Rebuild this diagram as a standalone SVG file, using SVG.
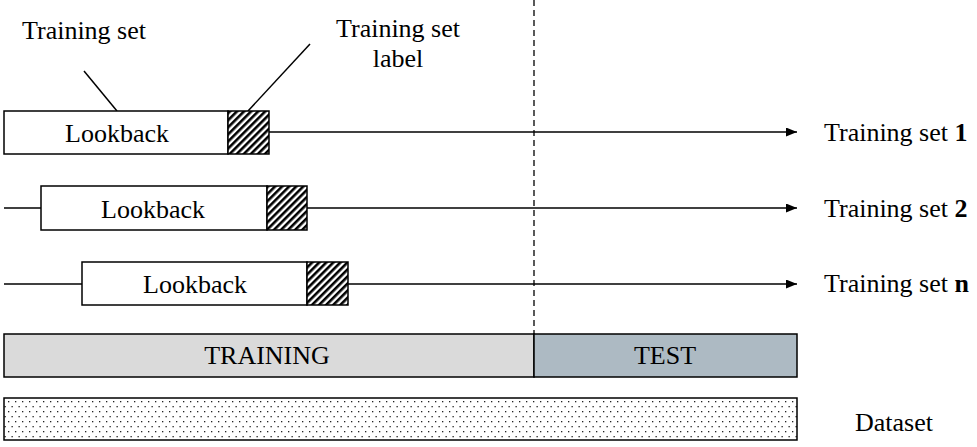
<svg xmlns="http://www.w3.org/2000/svg" width="977" height="447" viewBox="0 0 977 447">
<defs>
<pattern id="hatch" width="5" height="5" patternUnits="userSpaceOnUse" patternTransform="rotate(45)">
<rect width="5" height="5" fill="#fff"/>
<rect x="0" y="0" width="2.6" height="5" fill="#000"/>
</pattern>
<pattern id="dots" width="7" height="10" patternUnits="userSpaceOnUse">
<rect width="7" height="10" fill="#fff"/>
<rect x="1" y="1" width="1.3" height="1.3" fill="#222"/>
<rect x="4.5" y="6" width="1.3" height="1.3" fill="#222"/>
</pattern>
<marker id="arr" markerWidth="11" markerHeight="9" refX="11" refY="4.5" orient="auto" markerUnits="userSpaceOnUse">
<path d="M0,0 L11,4.5 L0,9 Z" fill="#000"/>
</marker>
</defs>
<style>
text{font-family:"Liberation Serif","Times New Roman",serif;font-size:26px;fill:#000}
.box{stroke:#000;stroke-width:1.5}
.ln{stroke:#000;stroke-width:1.5;fill:none}
</style>
<rect width="977" height="447" fill="#fff"/>
<g id="connectors">
<line class="ln" x1="269" y1="132" x2="797" y2="132" marker-end="url(#arr)"/>
<line class="ln" x1="4" y1="208" x2="41" y2="208"/>
<line class="ln" x1="307" y1="208" x2="797" y2="208" marker-end="url(#arr)"/>
<line class="ln" x1="4" y1="284" x2="82" y2="284"/>
<line class="ln" x1="348" y1="284" x2="797" y2="284" marker-end="url(#arr)"/>
<line class="ln" x1="84" y1="71" x2="117" y2="111"/>
<line class="ln" x1="310" y1="44" x2="248" y2="111"/>
<line x1="534" y1="0" x2="534" y2="334" stroke="#000" stroke-width="1.3" stroke-dasharray="6,4"/>
</g>
<g id="label-training-set"><text x="22" y="39">Training set</text></g>
<g id="label-training-set-label"><text x="398" y="37" text-anchor="middle">Training set</text><text x="398" y="67" text-anchor="middle">label</text></g>
<g id="row1">
<rect class="box" x="4" y="111" width="224" height="43" fill="#fff"/>
<rect class="box" x="228" y="111" width="41" height="43" fill="url(#hatch)"/>
<text x="117" y="142" text-anchor="middle">Lookback</text>
</g>
<g id="row2">
<rect class="box" x="41" y="186" width="226" height="44" fill="#fff"/>
<rect class="box" x="267" y="186" width="40" height="44" fill="url(#hatch)"/>
<text x="153" y="218" text-anchor="middle">Lookback</text>
</g>
<g id="row3">
<rect class="box" x="82" y="262" width="225" height="43" fill="#fff"/>
<rect class="box" x="307" y="262" width="41" height="43" fill="url(#hatch)"/>
<text x="195" y="293" text-anchor="middle">Lookback</text>
</g>
<g id="out1"><text x="824" y="141">Training set <tspan font-weight="bold">1</tspan></text></g>
<g id="out2"><text x="824" y="217">Training set <tspan font-weight="bold">2</tspan></text></g>
<g id="outn"><text x="824" y="292">Training set <tspan font-weight="bold">n</tspan></text></g>
<g id="training">
<rect class="box" x="4" y="334" width="530" height="43" fill="#dadada"/>
<text x="267" y="364" text-anchor="middle">TRAINING</text>
</g>
<g id="test">
<rect class="box" x="534" y="334" width="263" height="43" fill="#adbac3"/>
<text x="665" y="364" text-anchor="middle">TEST</text>
</g>
<g id="dataset">
<rect class="box" x="4" y="398" width="793" height="42" fill="url(#dots)"/>
<text x="855" y="431">Dataset</text>
</g>
</svg>
